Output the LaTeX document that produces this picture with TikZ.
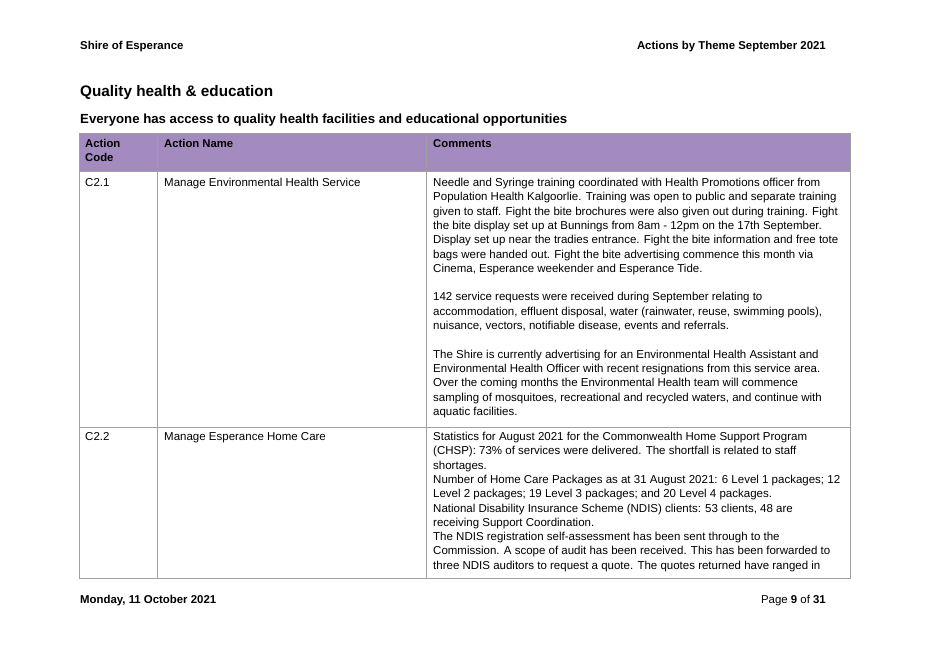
\documentclass[tikz,border=0pt]{standalone}
\usepackage{fontspec}
\setmainfont{Liberation Sans}
\definecolor{hdr}{HTML}{A48BBF}
\definecolor{grid}{HTML}{A0A0A0}
\begin{document}
\begin{tikzpicture}[x=1pt,y=-1pt,
  cell/.style={anchor=north west,inner sep=0pt,align=left,font=\fontsize{11.5}{14.3}\selectfont},
  hcell/.style={cell,font=\fontsize{11.3}{14.5}\selectfont\bfseries},
  gl/.style={draw=grid,line width=0.7pt}]
\useasboundingbox (0,0) rectangle (928,656);
\node[anchor=base west,inner sep=0pt,font=\fontsize{11.4}{13}\selectfont\bfseries] (h1) at (80,49) {Shire of Esperance};
\node[anchor=base east,inner sep=0pt,font=\fontsize{11.4}{13}\selectfont\bfseries] (h2) at (826,49) {Actions by Theme September 2021};
\node[anchor=base west,inner sep=0pt,font=\fontsize{15.3}{18}\selectfont\bfseries] (t1) at (80,96) {Quality health \& education};
\node[anchor=base west,inner sep=0pt,font=\fontsize{13.2}{15}\selectfont\bfseries] (t2) at (80,123) {Everyone has access to quality health facilities and educational opportunities};
% table
\fill[hdr] (79,133) rectangle (850,171);
\draw[gl] (79,133) rectangle (850,578);
\draw[gl] (79,171) -- (850,171);
\draw[gl] (79,427) -- (850,427);
\draw[gl] (157,133) -- (157,578);
\draw[gl] (426,133) -- (426,578);
\node[hcell] (hc1) at (85,139) {Action\\Code};
\node[hcell] (hc2) at (164,139) {Action Name};
\node[hcell] (hc3) at (433,139) {Comments};
\node[cell] (r1a) at (85,178) {C2.1};
\node[cell] (r1b) at (164,178) {Manage Environmental Health Service};
\node[cell] (r1c) at (433,178) {Needle and Syringe training coordinated with Health Promotions officer from\\
Population Health Kalgoorlie. Training was open to public and separate training\\
given to staff. Fight the bite brochures were also given out during training. Fight\\
the bite display set up at Bunnings from 8am - 12pm on the 17th September.\\
Display set up near the tradies entrance. Fight the bite information and free tote\\
bags were handed out. Fight the bite advertising commence this month via\\
Cinema, Esperance weekender and Esperance Tide.\\[14.3pt]
142 service requests were received during September relating to\\
accommodation, effluent disposal, water (rainwater, reuse, swimming pools),\\
nuisance, vectors, notifiable disease, events and referrals.\\[14.3pt]
The Shire is currently advertising for an Environmental Health Assistant and\\
Environmental Health Officer with recent resignations from this service area.\\
Over the coming months the Environmental Health team will commence\\
sampling of mosquitoes, recreational and recycled waters, and continue with\\
aquatic facilities.};
\node[cell] (r2a) at (85,432) {C2.2};
\node[cell] (r2b) at (164,432) {Manage Esperance Home Care};
\node[cell] (r2c) at (433,432) {Statistics for August 2021 for the Commonwealth Home Support Program\\
(CHSP): 73\% of services were delivered. The shortfall is related to staff\\
shortages.\\
Number of Home Care Packages as at 31 August 2021: 6 Level 1 packages; 12\\
Level 2 packages; 19 Level 3 packages; and 20 Level 4 packages.\\
National Disability Insurance Scheme (NDIS) clients: 53 clients, 48 are\\
receiving Support Coordination.\\
The NDIS registration self-assessment has been sent through to the\\
Commission. A scope of audit has been received. This has been forwarded to\\
three NDIS auditors to request a quote. The quotes returned have ranged in};
\node[anchor=base west,inner sep=0pt,font=\fontsize{11.4}{13}\selectfont\bfseries] (f1) at (80,603) {Monday, 11 October 2021};
\node[anchor=base east,inner sep=0pt,font=\fontsize{11.4}{13}\selectfont] (f2) at (826,603) {Page \textbf{9} of \textbf{31}};
\end{tikzpicture}
\end{document}
